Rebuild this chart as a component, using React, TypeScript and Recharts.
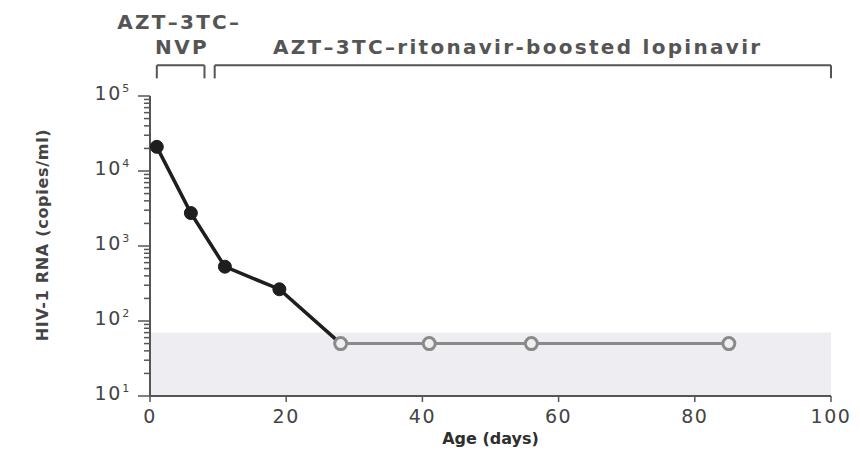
import React from "react";
import {
  LineChart,
  Line,
  XAxis,
  YAxis,
  ReferenceArea,
  ReferenceLine,
  ReferenceDot,
} from "recharts";

// ---- data ----
const days = [1, 6, 11, 19, 28, 41, 56, 85];
const rnaCopies = [21000, 2750, 530, 265, 50, 50, 50, 50];
const detected = [true, true, true, true, false, false, false, false];

const xTicks = [0, 20, 40, 60, 80, 100];
const yMajorTicks = [10, 100, 1000, 10000, 100000];
const yMinorMultipliers = [2, 3, 4, 5, 6, 7, 8, 9];
const detectionLimit = 70;

const regimenNames = ["AZT–3TC–NVP", "AZT–3TC–ritonavir-boosted lopinavir"];
const regimenStart = [1, 9.5];
const regimenEnd = [8, 100];

// ---- derived table ----
const firstUndetected = detected.indexOf(false);
const data = days.map((d, i) => ({
  day: d,
  detected: detected[i],
  dark: detected[i] || i === firstUndetected ? rnaCopies[i] : null,
  light: !detected[i] ? rnaCopies[i] : null,
}));

const yTicks: number[] = [];
yMajorTicks.forEach((m, i) => {
  yTicks.push(m);
  if (i < yMajorTicks.length - 1) yMinorMultipliers.forEach((k) => yTicks.push(m * k));
});

const FONT = "'DejaVu Sans', 'Open Sans', sans-serif";
const TEXT = "#444";
const AXIS = "#555";

const YTick = (props: any) => {
  const { x, y, payload } = props;
  const v = payload.value as number;
  const e = Math.log10(v);
  const major = Math.abs(e - Math.round(e)) < 1e-6;
  return (
    <g>
      <line x1={x - (major ? 12 : 6)} x2={x} y1={y} y2={y} stroke={AXIS} strokeWidth={1.5} />
      {major && (
        <text
          x={x - 19}
          y={y}
          dy="0.2em"
          textAnchor="end"
          fill={TEXT}
          fontFamily={FONT}
          fontSize={19}
          letterSpacing={1.8}
        >
          10
          <tspan dy={-8} fontSize={11}>
            {Math.round(e)}
          </tspan>
        </text>
      )}
    </g>
  );
};

const YLabel = (props: any) => {
  const vb = props.viewBox || { x: 40, y: 96, width: 110, height: 300 };
  const cx = vb.x + 2;
  const cy = vb.y + vb.height / 2 - 11;
  return (
    <text
      x={cx}
      y={cy}
      transform={`rotate(-90, ${cx}, ${cy})`}
      textAnchor="middle"
      dominantBaseline="central"
      fill={TEXT}
      fontFamily={FONT}
      fontWeight={700}
      fontSize={16}
      letterSpacing={0.7}
    >
      HIV-1 RNA (copies/ml)
    </text>
  );
};

// y-levels (in axis units, above the plotted domain) for the regimen brackets
const BRACKET_Y = 257000;
const BRACKET_TICK_Y = 172000;
const LABEL_Y1 = 960000;
const LABEL_Y2 = 455000;

export default function App() {
  const bracketStyle = { stroke: "#555", strokeWidth: 2 };
  const labelStyle = {
    fill: "#555",
    fontFamily: FONT,
    fontSize: 20,
    fontWeight: 600,
    letterSpacing: 2.3,
  };
  return (
    <div style={{ position: "absolute", left: 0, top: 0, width: 860, height: 476, background: "#fff" }}>
      <LineChart
        width={860}
        height={476}
        data={data}
        margin={{ top: 96, right: 29, bottom: 30, left: 40 }}
      >
        <XAxis
          dataKey="day"
          type="number"
          domain={[0, 100]}
          ticks={xTicks}
          interval={0}
          height={50}
          allowDataOverflow
          axisLine={{ stroke: AXIS, strokeWidth: 2 }}
          tickLine={{ stroke: AXIS, strokeWidth: 1.5 }}
          tickSize={6}
          tickMargin={8}
          tick={{ fill: TEXT, fontFamily: FONT, fontSize: 19, letterSpacing: 1.5 }}
          label={{
            value: "Age (days)",
            position: "insideBottom",
            offset: 2,
            fill: "#2e2e2e",
            fontFamily: FONT,
            fontWeight: 700,
            fontSize: 16,
          }}
        />
        <YAxis
          type="number"
          scale="log"
          domain={[10, 100000]}
          allowDataOverflow
          ticks={yTicks}
          interval={0}
          width={110}
          axisLine={{ stroke: AXIS, strokeWidth: 2 }}
          tickLine={false}
          tickSize={0}
          tickMargin={0}
          tick={<YTick />}
          label={<YLabel />}
        />
        <ReferenceArea
          x1={0}
          x2={100}
          y1={10}
          y2={detectionLimit}
          fill="#eeeef2"
          fillOpacity={1}
          stroke="none"
        />
        {regimenNames.map((n, i) => (
          <ReferenceLine
            key={`b${i}`}
            segment={[
              { x: regimenStart[i], y: BRACKET_Y },
              { x: regimenEnd[i], y: BRACKET_Y },
            ]}
            ifOverflow="visible"
            {...bracketStyle}
          />
        ))}
        {regimenNames.map((n, i) => (
          <ReferenceLine
            key={`s${i}`}
            segment={[
              { x: regimenStart[i], y: BRACKET_Y },
              { x: regimenStart[i], y: BRACKET_TICK_Y },
            ]}
            ifOverflow="visible"
            {...bracketStyle}
          />
        ))}
        {regimenNames.map((n, i) => (
          <ReferenceLine
            key={`e${i}`}
            segment={[
              { x: regimenEnd[i], y: BRACKET_Y },
              { x: regimenEnd[i], y: BRACKET_TICK_Y },
            ]}
            ifOverflow="visible"
            {...bracketStyle}
          />
        ))}
        <ReferenceDot
          x={4.3}
          y={LABEL_Y1}
          r={0}
          fill="none"
          stroke="none"
          ifOverflow="visible"
          label={{ value: "AZT–3TC–", position: "center", ...labelStyle }}
        />
        <ReferenceDot
          x={4.7}
          y={LABEL_Y2}
          r={0}
          fill="none"
          stroke="none"
          ifOverflow="visible"
          label={{ value: "NVP", position: "center", ...labelStyle }}
        />
        <ReferenceDot
          x={54}
          y={LABEL_Y2}
          r={0}
          fill="none"
          stroke="none"
          ifOverflow="visible"
          label={{ value: regimenNames[1], position: "center", ...labelStyle }}
        />
        <Line
          dataKey="dark"
          stroke="#1e1e1e"
          strokeWidth={3.5}
          isAnimationActive={false}
          connectNulls={false}
          dot={(p: any) =>
            p.payload.detected ? (
              <circle key={`d${p.index}`} cx={p.cx} cy={p.cy} r={6.5} fill="#1e1e1e" stroke="#1e1e1e" strokeWidth={1} />
            ) : (
              <g key={`d${p.index}`} />
            )
          }
          activeDot={false}
        />
        <Line
          dataKey="light"
          stroke="#8a8a8a"
          strokeWidth={3}
          isAnimationActive={false}
          dot={{ r: 6, fill: "#efefef", stroke: "#8a8a8a", strokeWidth: 3 }}
          activeDot={false}
        />
      </LineChart>
    </div>
  );
}
